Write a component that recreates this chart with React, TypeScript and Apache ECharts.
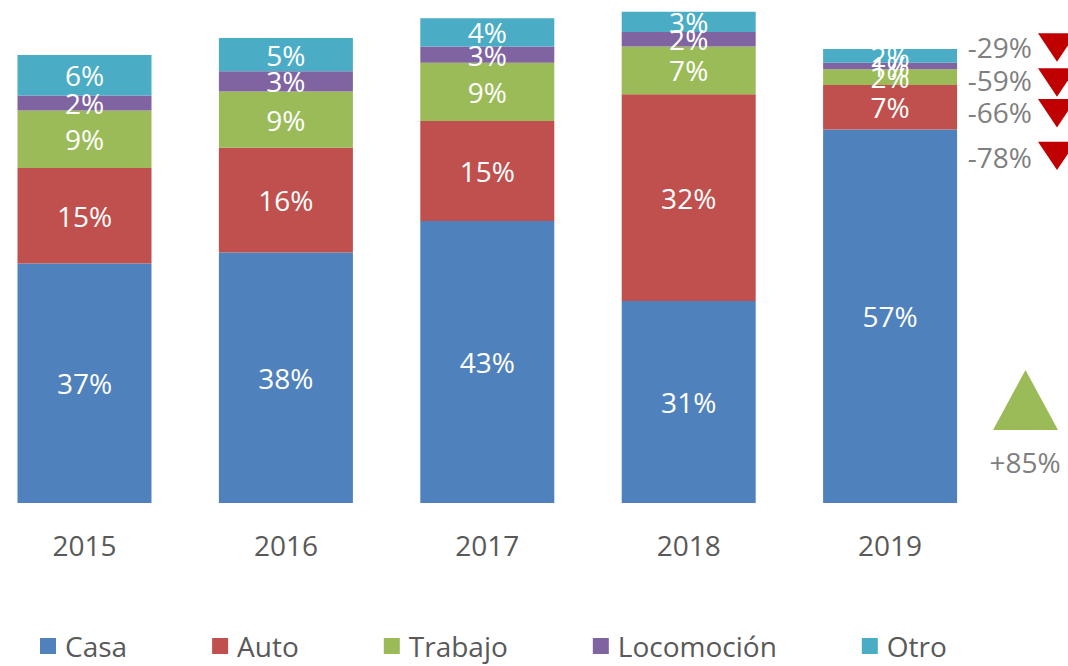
import React, { useEffect, useRef } from "react";
import * as echarts from "echarts";

const years = ["2015", "2016", "2017", "2018", "2019"];
const casa = [36.6, 38.3, 43.1, 30.9, 57.1];
const auto = [14.6, 16.0, 15.3, 31.6, 6.8];
const trabajo = [8.8, 8.6, 8.9, 7.3, 2.4];
const locomocion = [2.3, 3.1, 2.5, 2.2, 1.0];
const otro = [6.2, 5.1, 4.3, 3.1, 2.1];

const seriesNames = ["Casa", "Auto", "Trabajo", "Locomoción", "Otro"];
const seriesColors = ["#4F81BD", "#C0504D", "#9BBB59", "#8064A2", "#4BACC6"];

const changeDown = ["-29%", "-59%", "-66%", "-78%"];
const changeUp = ["+85%"];

const FONT = "'Open Sans', 'Noto Sans', sans-serif";
const OFF = 17; // container is shifted left by this many pixels
const FS = 28;

export default function App() {
  const ref = useRef<HTMLDivElement>(null);
  useEffect(() => {
    if (!ref.current) return;
    const chart = echarts.init(ref.current, undefined, { renderer: "svg" });
    const data = [casa, auto, trabajo, locomocion, otro];
    const downY = [46.7, 80, 111.7, 156.7];
    const triTop = [33.3, 68.3, 99, 141.7];
    const graphics: any[] = [];
    changeDown.forEach((t, i) => {
      graphics.push({
        type: "text",
        x: 1032 + OFF,
        y: downY[i],
        style: {
          text: t,
          fill: "#7F7F7F",
          font: `${FS}px ${FONT}`,
          textAlign: "right",
          textVerticalAlign: "middle",
        },
      });
      graphics.push({
        type: "polygon",
        shape: {
          points: [
            [1038 + OFF, triTop[i]],
            [1076 + OFF, triTop[i]],
            [1057 + OFF, triTop[i] + 28.4],
          ],
        },
        style: { fill: "#C00000" },
      });
    });
    graphics.push({
      type: "polygon",
      shape: {
        points: [
          [993 + OFF, 430],
          [1058 + OFF, 430],
          [1025.5 + OFF, 370],
        ],
      },
      style: { fill: "#9BBB59" },
    });
    graphics.push({
      type: "text",
      x: 1025 + OFF,
      y: 461.7,
      style: {
        text: changeUp[0],
        fill: "#7F7F7F",
        font: `${FS}px ${FONT}`,
        textAlign: "center",
        textVerticalAlign: "middle",
      },
    });

    chart.setOption({
      animation: false,
      textStyle: { fontFamily: FONT },
      grid: { left: 0.8, width: 1007, top: 0, bottom: 163, containLabel: false },
      legend: {
        data: seriesNames,
        left: 40 + OFF,
        top: 632,
        padding: 0,
        itemWidth: 16,
        itemHeight: 16,
        itemGap: 85,
        icon: "rect",
        textStyle: { fontSize: FS, color: "#595959", fontFamily: FONT, padding: [0, 0, 0, 4] },
      },
      xAxis: {
        type: "category",
        data: years,
        axisLine: { show: false },
        axisTick: { show: false },
        axisLabel: { fontSize: FS, color: "#595959", margin: 28, fontFamily: FONT },
      },
      yAxis: {
        type: "value",
        min: 0,
        max: 76.9,
        show: false,
        splitLine: { show: false },
      },
      series: seriesNames.map((name, i) => ({
        name,
        type: "bar",
        stack: "total",
        barWidth: 134,
        data: data[i],
        itemStyle: { color: seriesColors[i] },
        label: {
          show: true,
          position: "inside",
          color: "#FFFFFF",
          fontSize: FS,
          fontFamily: FONT,
          formatter: (p: any) => `${Math.round(p.value)}%`,
        },
      })),
      graphic: graphics,
    });
    return () => chart.dispose();
  }, []);
  return (
    <div
      ref={ref}
      style={{ position: "fixed", left: -OFF, top: 0, width: 1068 + OFF, height: 666, background: "#fff" }}
    />
  );
}
